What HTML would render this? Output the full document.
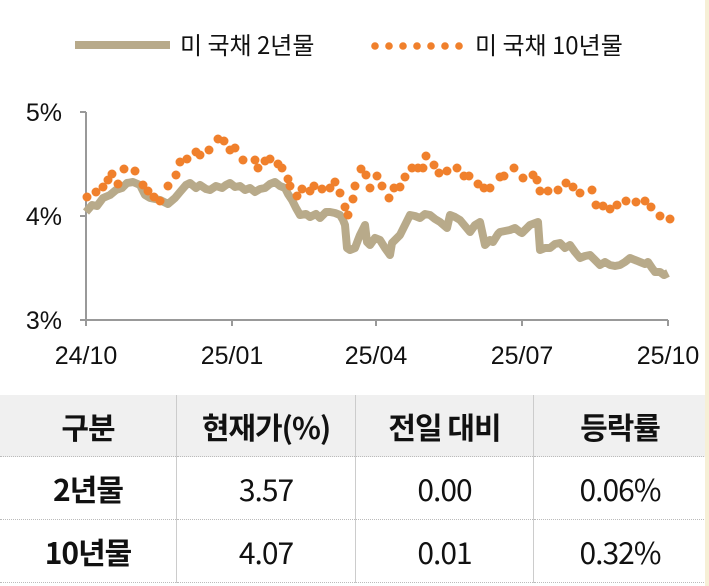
<!DOCTYPE html>
<html><head><meta charset="utf-8"><style>
body{margin:0;width:709px;height:586px;background:#fff;overflow:hidden;font-family:"Liberation Sans","Noto Sans CJK KR",sans-serif;}
svg{position:absolute;left:0;top:0}
table{position:absolute;left:0;top:395px;width:706px;border-collapse:collapse;}
td{text-align:center;height:62px;font-size:30px;color:#111;border-left:1px solid #ccc;border-bottom:1px dotted #bbb;padding:0;font-family:"Noto Sans CJK KR","Liberation Sans",sans-serif;letter-spacing:-1px}
tr:first-child td{background:#f0f0f0;font-weight:bold;height:61px}
td:first-child{border-left:none;font-weight:bold}
.edge{position:absolute;left:705px;top:0;width:4px;height:586px;background:#f6efd6}
</style></head><body>
<svg width="709" height="395" font-family="Liberation Sans, Noto Sans CJK KR, sans-serif">
<line x1="75" y1="45" x2="170" y2="45" stroke="#b8aa8a" stroke-width="8"/>
<text x="180" y="54" font-size="24" fill="#111" font-family="Noto Sans CJK KR, sans-serif">미 국채 2년물</text>
<g fill="#f0802c">
<circle cx="375" cy="46" r="3.8"/><circle cx="389" cy="46" r="3.8"/><circle cx="403" cy="46" r="3.8"/><circle cx="417" cy="46" r="3.8"/><circle cx="431" cy="46" r="3.8"/><circle cx="445" cy="46" r="3.8"/><circle cx="459" cy="46" r="3.8"/>
</g>
<text x="475" y="54" font-size="24" fill="#111" font-family="Noto Sans CJK KR, sans-serif">미 국채 10년물</text>
<g stroke="#999" stroke-width="2" fill="none">
<line x1="86" y1="112" x2="86" y2="322"/>
<line x1="80" y1="112" x2="86" y2="112"/><line x1="80" y1="216" x2="86" y2="216"/><line x1="80" y1="320" x2="86" y2="320"/>
<line x1="86" y1="320" x2="668" y2="320"/>
<line x1="232" y1="320" x2="232" y2="326"/><line x1="376" y1="320" x2="376" y2="326"/><line x1="522" y1="320" x2="522" y2="326"/><line x1="668" y1="320" x2="668" y2="326"/><line x1="86" y1="320" x2="86" y2="326"/>
</g>
<g font-size="25" fill="#111" text-anchor="end">
<text x="62" y="121">5%</text><text x="62" y="225">4%</text><text x="62" y="329">3%</text>
</g>
<g font-size="25" fill="#111" text-anchor="middle">
<text x="86" y="364">24/10</text><text x="232" y="364">25/01</text><text x="376" y="364">25/04</text><text x="522" y="364">25/07</text><text x="668" y="364">25/10</text>
</g>
<polyline fill="none" stroke="#b8aa8a" stroke-width="8" stroke-linejoin="round" points="86,212 92,205 97,206 103,198 110,195 116,190 122,188 127,183 133,182 140,185 145,195 150,198 160,200 168,204 175,198 180,192 186,185 190,183 196,188 200,185 206,189 210,190 216,186 222,188 226,185 230,183 235,187 240,186 245,190 250,188 255,192 260,189 265,188 270,184 275,182 280,186 285,188 288,194 292,200 296,208 300,215 306,214 310,217 316,214 320,218 326,212 330,212 335,213 340,215 343,220 345,225 347,248 350,250 355,248 358,240 360,235 365,225 367,242 370,245 375,238 380,240 385,248 390,255 392,243 395,240 400,235 405,225 410,215 415,216 420,218 425,214 430,215 435,219 440,222 447,228 450,215 455,217 460,220 465,226 470,232 475,225 480,222 485,245 490,240 493,242 498,234 500,232 505,231 510,230 515,228 520,232 522,233 527,228 530,225 538,222 540,250 545,248 550,248 555,244 560,243 565,248 570,245 575,252 580,258 585,256 590,255 595,260 600,265 605,262 610,265 615,266 620,265 625,262 630,258 635,260 640,262 645,264 648,262 652,268 655,272 660,272 664,275 668,273"/>
<g fill="#f0802c">
<circle cx="87" cy="197" r="4.5"/><circle cx="96" cy="192" r="4.5"/><circle cx="103" cy="187" r="4.5"/><circle cx="108" cy="180" r="4.5"/><circle cx="112" cy="174" r="4.5"/><circle cx="118" cy="184" r="4.5"/><circle cx="124" cy="169" r="4.5"/><circle cx="135" cy="171" r="4.5"/><circle cx="143" cy="185" r="4.5"/><circle cx="148" cy="191" r="4.5"/><circle cx="154" cy="197" r="4.5"/><circle cx="160" cy="201" r="4.5"/><circle cx="168" cy="186" r="4.5"/><circle cx="176" cy="175" r="4.5"/><circle cx="180" cy="162" r="4.5"/><circle cx="187" cy="159" r="4.5"/><circle cx="196" cy="152" r="4.5"/><circle cx="200" cy="155" r="4.5"/><circle cx="209" cy="150" r="4.5"/><circle cx="218" cy="139" r="4.5"/><circle cx="224" cy="141" r="4.5"/><circle cx="230" cy="150" r="4.5"/><circle cx="235" cy="148" r="4.5"/><circle cx="243" cy="160" r="4.5"/><circle cx="255" cy="160" r="4.5"/><circle cx="258" cy="168" r="4.5"/><circle cx="265" cy="161" r="4.5"/><circle cx="270" cy="159" r="4.5"/><circle cx="278" cy="164" r="4.5"/><circle cx="282" cy="168" r="4.5"/><circle cx="288" cy="179" r="4.5"/><circle cx="290" cy="186" r="4.5"/><circle cx="297" cy="196" r="4.5"/><circle cx="302" cy="189" r="4.5"/><circle cx="310" cy="191" r="4.5"/><circle cx="314" cy="186" r="4.5"/><circle cx="322" cy="189" r="4.5"/><circle cx="330" cy="188" r="4.5"/><circle cx="335" cy="182" r="4.5"/><circle cx="340" cy="193" r="4.5"/><circle cx="345" cy="207" r="4.5"/><circle cx="348" cy="215" r="4.5"/><circle cx="353" cy="199" r="4.5"/><circle cx="355" cy="186" r="4.5"/><circle cx="361" cy="169" r="4.5"/><circle cx="366" cy="175" r="4.5"/><circle cx="370" cy="188" r="4.5"/><circle cx="377" cy="176" r="4.5"/><circle cx="382" cy="186" r="4.5"/><circle cx="389" cy="198" r="4.5"/><circle cx="394" cy="188" r="4.5"/><circle cx="400" cy="187" r="4.5"/><circle cx="405" cy="177" r="4.5"/><circle cx="412" cy="168" r="4.5"/><circle cx="418" cy="168" r="4.5"/><circle cx="423" cy="168" r="4.5"/><circle cx="426" cy="156" r="4.5"/><circle cx="434" cy="165" r="4.5"/><circle cx="439" cy="173" r="4.5"/><circle cx="447" cy="171" r="4.5"/><circle cx="457" cy="168" r="4.5"/><circle cx="464" cy="176" r="4.5"/><circle cx="469" cy="176" r="4.5"/><circle cx="478" cy="184" r="4.5"/><circle cx="484" cy="188" r="4.5"/><circle cx="490" cy="188" r="4.5"/><circle cx="500" cy="177" r="4.5"/><circle cx="504" cy="176" r="4.5"/><circle cx="514" cy="168" r="4.5"/><circle cx="523" cy="178" r="4.5"/><circle cx="533" cy="175" r="4.5"/><circle cx="537" cy="180" r="4.5"/><circle cx="540" cy="191" r="4.5"/><circle cx="548" cy="191" r="4.5"/><circle cx="558" cy="190" r="4.5"/><circle cx="566" cy="183" r="4.5"/><circle cx="573" cy="187" r="4.5"/><circle cx="580" cy="193" r="4.5"/><circle cx="592" cy="190" r="4.5"/><circle cx="596" cy="205" r="4.5"/><circle cx="603" cy="206" r="4.5"/><circle cx="610" cy="209" r="4.5"/><circle cx="617" cy="205" r="4.5"/><circle cx="626" cy="201" r="4.5"/><circle cx="636" cy="202" r="4.5"/><circle cx="645" cy="201" r="4.5"/><circle cx="651" cy="207" r="4.5"/><circle cx="660" cy="216" r="4.5"/><circle cx="670" cy="219" r="4.5"/>
</g>
</svg>
<table>
<tr><td style="width:176px">구분</td><td style="width:178px">현재가(%)</td><td style="width:177px">전일 대비</td><td>등락률</td></tr>
<tr><td>2년물</td><td>3.57</td><td>0.00</td><td>0.06%</td></tr>
<tr><td>10년물</td><td>4.07</td><td>0.01</td><td>0.32%</td></tr>
</table>
<div class="edge"></div>
</body></html>
